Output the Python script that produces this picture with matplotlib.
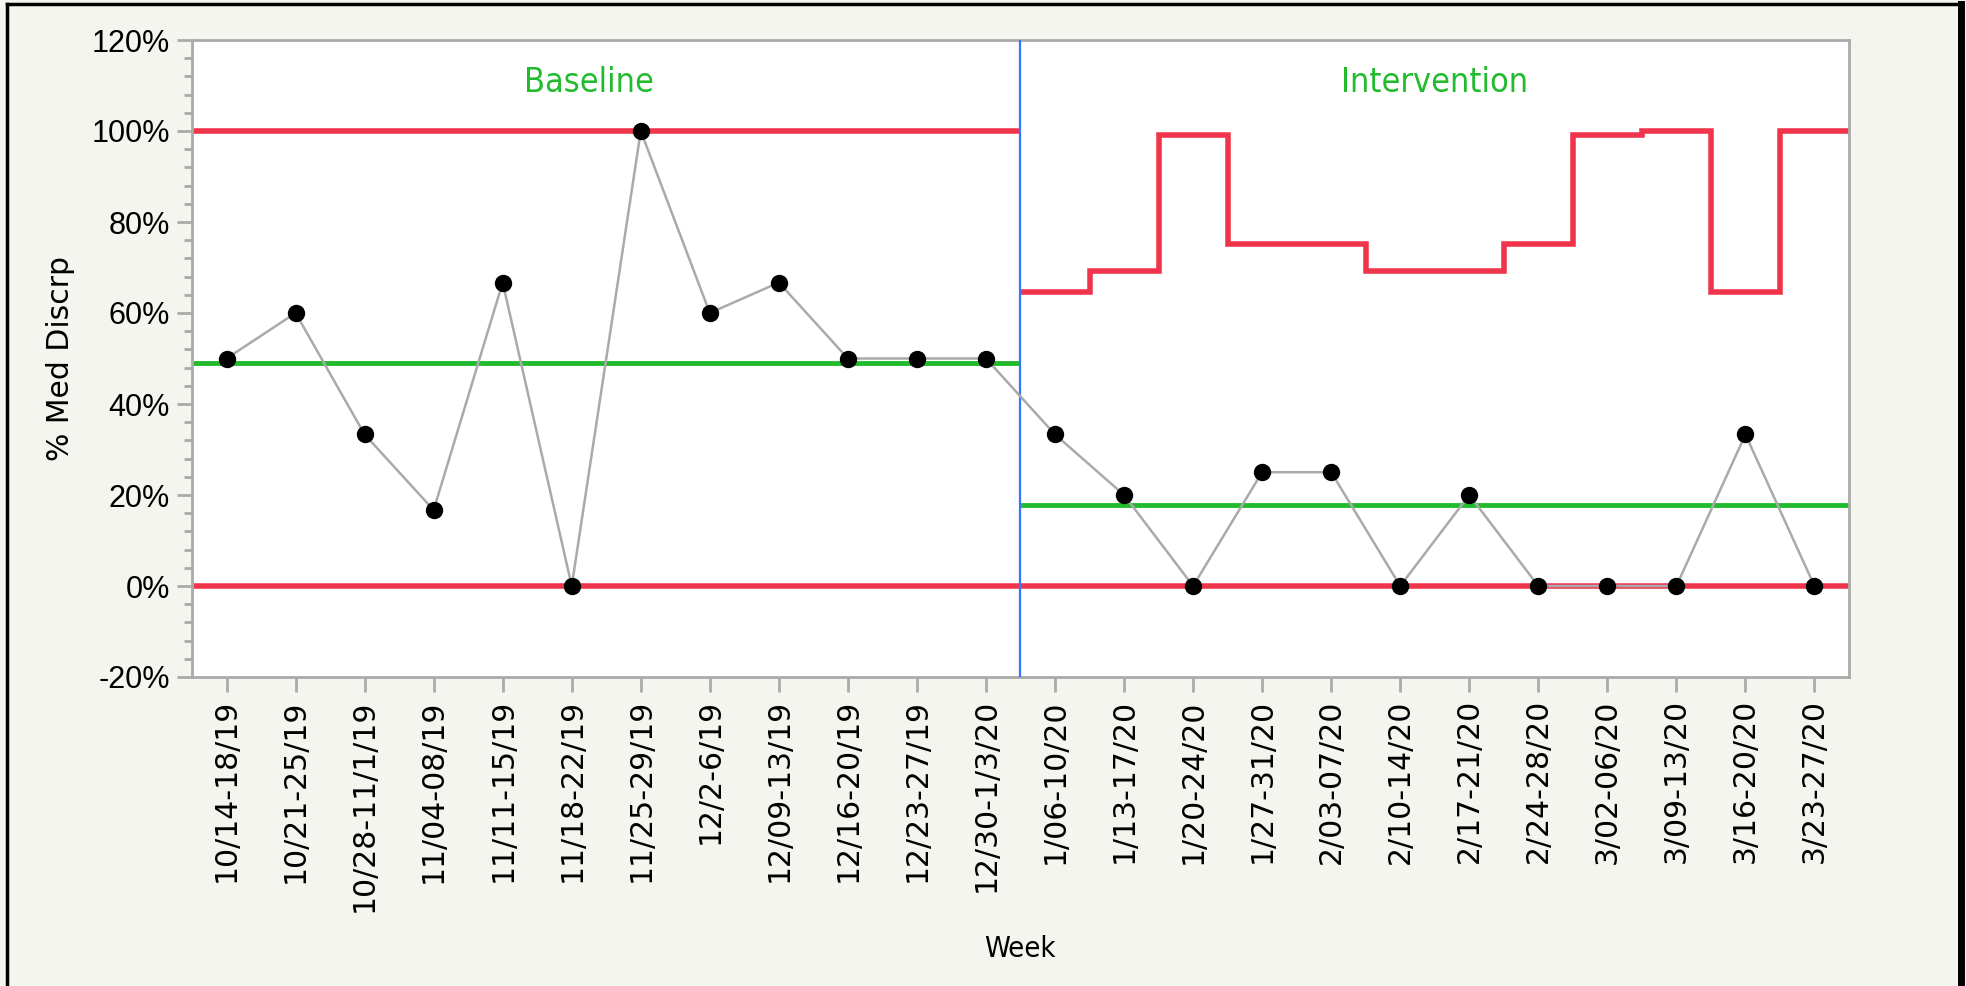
import numpy as np
import matplotlib
matplotlib.use("Agg")
import matplotlib.pyplot as plt
from matplotlib.lines import Line2D
from matplotlib.ticker import MultipleLocator, FuncFormatter
from matplotlib import font_manager

weeks = ["10/14-18/19", "10/21-25/19", "10/28-11/1/19", "11/04-08/19", "11/11-15/19",
         "11/18-22/19", "11/25-29/19", "12/2-6/19", "12/09-13/19", "12/16-20/19",
         "12/23-27/19", "12/30-1/3/20",
         "1/06-10/20", "1/13-17/20", "1/20-24/20", "1/27-31/20", "2/03-07/20",
         "2/10-14/20", "2/17-21/20", "2/24-28/20", "3/02-06/20", "3/09-13/20",
         "3/16-20/20", "3/23-27/20"]
pct = [50, 60, 33.3, 16.7, 66.7, 0, 100, 60, 66.7, 50, 50, 50,
       33.3, 20, 0, 25, 25, 0, 20, 0, 0, 0, 33.3, 0]
phase_names = ["Baseline", "Intervention"]
phase_n = [12, 12]
center = [49.1, 17.9]
ucl_base = 100.0
ucl_interv = [64.6, 69.2, 99.1, 75.2, 75.2, 69.2, 69.2, 75.2, 99.1, 100.0, 64.6, 100.0]
lcl = [0.0, 0.0]

red = "#F0344B"
green = "#22BB2E"
bg = "#F5F5F0"
gray = "#AAAAAA"

# condensed font for the titles, if there is one
cond = None
for f in font_manager.fontManager.ttflist:
    if "Condensed" in f.fname and f.name == "DejaVu Sans" and "Bold" not in f.fname \
            and "Oblique" not in f.fname:
        cond = f.fname
if cond:
    title_font = font_manager.FontProperties(fname=cond, size=24.5)
    week_font = font_manager.FontProperties(fname=cond, size=21)
else:
    title_font = font_manager.FontProperties(family="Liberation Sans", size=24)
    week_font = font_manager.FontProperties(family="Liberation Sans", size=21)

fig = plt.figure(figsize=(19.66, 9.86), dpi=100, facecolor=bg)
ax = fig.add_axes([192/1966, 1-677/986, (1849-192)/1966, (677-40)/986])
ax.set_facecolor("white")

x = np.arange(len(pct))
b0, b1 = -0.5, phase_n[0] - 0.5
e1 = len(pct) - 0.5

# baseline limits
ax.plot([b0, b1], [ucl_base, ucl_base], color=red, lw=4, solid_capstyle="butt", zorder=2)
ax.plot([b0, b1], [lcl[0], lcl[0]], color=red, lw=4, solid_capstyle="butt", zorder=2)
ax.plot([b0, b1], [center[0], center[0]], color=green, lw=3.5, solid_capstyle="butt", zorder=2)

# intervention limits (stepped UCL)
xi = x[phase_n[0]:]
sx = np.repeat(np.append(xi - 0.5, xi[-1] + 0.5), 2)[1:-1]
sy = np.repeat(ucl_interv, 2)
ax.plot(sx, sy, color=red, lw=4, solid_joinstyle="miter", solid_capstyle="butt", zorder=2)
ax.plot([b1, e1], [lcl[1], lcl[1]], color=red, lw=4, solid_capstyle="butt", zorder=2)
ax.plot([b1, e1], [center[1], center[1]], color=green, lw=3.5, solid_capstyle="butt", zorder=2)

ax.axvline(b1, color="#3377FF", lw=1.6, zorder=3)

ax.plot(x, pct, color=gray, lw=1.8, zorder=4)
ax.plot(x, pct, "o", color="black", ms=11.5, zorder=5)

ax.text(5.25, 108.6, phase_names[0], color=green, fontproperties=title_font,
        ha="center", va="baseline")
ax.text(17.5, 108.6, phase_names[1], color=green, fontproperties=title_font,
        ha="center", va="baseline")

ax.set_xlim(b0, e1)
ax.set_ylim(-20, 120)
ax.yaxis.set_major_locator(MultipleLocator(20))
ax.yaxis.set_minor_locator(MultipleLocator(4))
ax.yaxis.set_major_formatter(FuncFormatter(lambda v, p: f"{v:.0f}%"))
ax.set_xticks(x)
ax.set_xticklabels(weeks, rotation=90, fontsize=21.5, family="DejaVu Sans")
for lab in ax.get_yticklabels():
    lab.set_family("Liberation Sans")
    lab.set_fontsize(22)

ax.tick_params(axis="both", which="major", length=11, width=2, color=gray, pad=5)
ax.tick_params(axis="y", which="minor", length=6, width=2, color=gray)
for s in ax.spines.values():
    s.set_color(gray)
    s.set_linewidth(2)

ax.set_ylabel("% Med Discrp", fontsize=21.5, family="DejaVu Sans", labelpad=12)
fig.text(1020/1966, 1-949/986, "Week", fontproperties=week_font, ha="center", va="center")

# outer frame (top, left, right)
fig.add_artist(Line2D([7/1966, 7/1966], [0, 1-4/986], color="black", lw=2.5))
fig.add_artist(Line2D([7/1966, 1961/1966], [1-4/986, 1-4/986], color="black", lw=2.5))
fig.add_artist(Line2D([1961/1966, 1961/1966], [0, 1-4/986], color="black", lw=5))

fig.savefig("out.png", dpi=100, facecolor=bg)
